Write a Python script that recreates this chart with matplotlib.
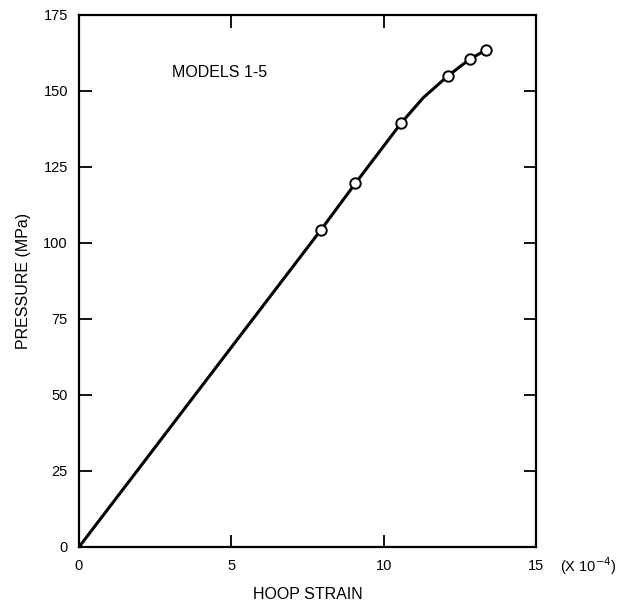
import matplotlib
matplotlib.use("Agg")
import matplotlib.pyplot as plt

plt.rcParams['font.family'] = ['Liberation Sans', 'DejaVu Sans']

# data (strain in units of 1e-4, pressure in MPa)
strain_pts = [7.94, 9.07, 10.57, 12.10, 12.83, 13.36]
pressure_pts = [104.3, 119.6, 139.4, 154.9, 160.5, 163.5]
curve_strain = [0.0, 7.94, 9.07, 10.57, 11.30, 12.10, 12.83, 13.36]
curve_pressure = [0.0, 104.3, 119.6, 139.4, 147.8, 154.9, 160.5, 163.5]
x_ticks = [0, 5, 10, 15]
y_ticks = [0, 25, 50, 75, 100, 125, 150, 175]

fig = plt.figure(figsize=(6.29, 6.04), dpi=100)
ax = fig.add_axes([79/629, 1-547/604, 457/629, 532/604])

ax.plot(curve_strain, curve_pressure, color='black', lw=2.2, zorder=2)
ax.plot(strain_pts, pressure_pts, 'o', ms=7.5, mfc='white', mec='black', mew=1.4, zorder=3)

ax.set_xlim(0, 15)
ax.set_ylim(0, 175)
ax.set_xticks(x_ticks)
ax.set_yticks(y_ticks)
ax.tick_params(direction='in', length=9, width=1.3, top=True, right=True,
               labelsize=10.5, color='black')
ax.tick_params(axis='x', pad=9)
ax.tick_params(axis='y', pad=8)
for s in ax.spines.values():
    s.set_linewidth(1.6)

ax.set_xlabel('HOOP STRAIN', fontsize=11.5, labelpad=10)
ax.set_ylabel('PRESSURE (MPa)', fontsize=11.5, labelpad=9)

ax.text(1.052, -0.015, '(X 10$^{-4}$)', transform=ax.transAxes, fontsize=10.5,
        ha='left', va='top')
ax.text(3.05, 156, 'MODELS 1-5', fontsize=11.5, ha='left', va='center')

fig.savefig('out.png', dpi=100)
